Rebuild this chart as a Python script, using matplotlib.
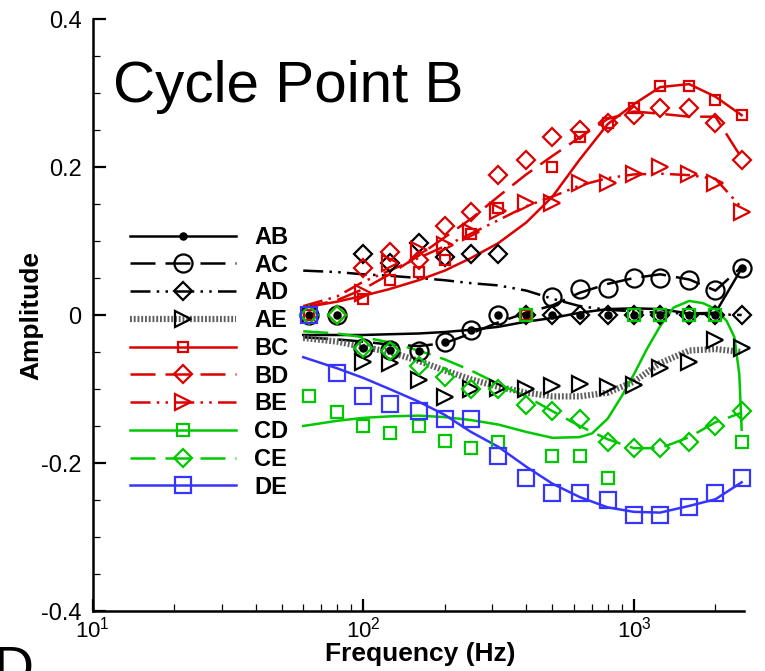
"""
Cycle Point B - amplitude spectra for each pair, markers plus fitted curves
"""

import numpy as np
import matplotlib
matplotlib.use("Agg")
import matplotlib.pyplot as plt
from matplotlib.lines import Line2D
from matplotlib.ticker import FixedLocator, MultipleLocator, LogLocator, NullFormatter

plt.rcParams["font.family"] = ["Liberation Sans", "DejaVu Sans"]
plt.rcParams["mathtext.fontset"] = "custom"
plt.rcParams["mathtext.rm"] = "Liberation Sans"
plt.rcParams["mathtext.it"] = "Liberation Sans:italic"
plt.rcParams["mathtext.bf"] = "Liberation Sans:bold"

nan = np.nan

# 1/3-octave band centres of the measured points
FREQ = [63, 80, 100, 125, 160, 200, 250, 315, 400, 500, 630, 800, 1000, 1250, 1600, 2000, 2500]

# measured amplitudes (markers)
AB_PTS = [0, 0, -0.044, -0.047, -0.048, -0.036, -0.02, 0, 0, 0, 0, 0, 0, 0, 0, 0, 0.063]
AC_PTS = [0, 0, -0.044, -0.047, -0.048, -0.036, -0.02, 0, nan, 0.024, 0.035, 0.036, 0.05, 0.05, 0.047, 0.034, 0.063]
AD_PTS = [nan, nan, 0.083, 0.07, 0.097, 0.078, 0.083, 0.083, 0, 0, 0, 0, 0, 0, 0, 0, 0]
AE_PTS = [nan, nan, -0.063, -0.065, -0.088, -0.111, -0.1, -0.099, -0.1, -0.096, -0.093, -0.097, -0.094, -0.072, -0.063, -0.034, -0.045]
BC_PTS = [0, nan, 0.022, 0.047, 0.058, 0.075, 0.11, 0.145, 0, 0.2, 0.24, 0.26, 0.28, 0.31, 0.31, 0.29, 0.27]
BD_PTS = [nan, 0, 0.063, 0.085, 0.074, 0.12, 0.139, 0.189, 0.209, 0.24, 0.25, 0.26, 0.27, 0.28, 0.28, 0.26, 0.21]
BE_PTS = [nan, nan, 0.03, 0.07, 0.088, 0.094, 0.112, 0.141, 0.151, 0.151, 0.179, 0.179, 0.19, 0.2, 0.19, 0.178, 0.139]
CD_PTS = [-0.11, -0.131, -0.15, -0.16, -0.15, -0.17, -0.18, -0.171, 0, -0.19, -0.19, -0.22, 0, 0, 0, 0, -0.171]
CE_PTS = [0, 0, -0.045, -0.049, -0.069, -0.084, -0.1, -0.1, -0.122, -0.13, -0.14, -0.171, -0.18, -0.18, -0.171, -0.15, -0.13]
DE_PTS = [0, -0.078, -0.11, -0.12, -0.13, -0.14, -0.14, -0.19, -0.22, -0.24, -0.24, -0.25, -0.27, -0.27, -0.26, -0.24, -0.22]

# fitted curves (lines)
LINE_FREQ = [60, 80, 100, 125, 160, 200, 250, 315, 400, 500, 630, 800, 1000, 1250, 1600, 2000, 2500]
AB_FIT = [-0.027, -0.027, -0.027, -0.026, -0.025, -0.023, -0.02, -0.016, -0.009, -0.004, 0.003, 0.008, 0.009, 0.008, 0.002, 0.003, 0.063]
AC_FIT = [-0.03, -0.033, -0.036, -0.04, -0.042, -0.038, -0.025, -0.01, 0.003, 0.013, 0.03, 0.042, 0.05, 0.055, 0.048, 0.033, 0.065]
AD_FIT = [0.06, 0.058, 0.055, 0.053, 0.05, 0.047, 0.043, 0.04, 0.033, 0.022, 0.012, 0.007, 0.005, 0.003, 0.002, 0.001, 0.0]
AE_FIT = [-0.031, -0.036, -0.043, -0.05, -0.062, -0.075, -0.087, -0.097, -0.105, -0.11, -0.11, -0.105, -0.09, -0.065, -0.048, -0.046, -0.05]
BC_FIT = [0.01, 0.018, 0.026, 0.035, 0.047, 0.06, 0.077, 0.097, 0.125, 0.16, 0.21, 0.258, 0.285, 0.308, 0.312, 0.295, 0.27]
BD_FIT = [0.01, 0.02, 0.035, 0.055, 0.08, 0.105, 0.13, 0.16, 0.19, 0.215, 0.24, 0.265, 0.275, 0.272, 0.268, 0.268, 0.212]
BE_FIT = [0.012, 0.025, 0.045, 0.06, 0.077, 0.093, 0.11, 0.128, 0.147, 0.16, 0.175, 0.185, 0.19, 0.191, 0.189, 0.184, 0.145]
CE_FIT = [-0.022, -0.025, -0.03, -0.037, -0.048, -0.06, -0.075, -0.093, -0.11, -0.13, -0.15, -0.168, -0.18, -0.18, -0.165, -0.145, -0.132]
DE_FIT = [-0.057, -0.072, -0.085, -0.1, -0.117, -0.135, -0.158, -0.178, -0.205, -0.228, -0.246, -0.26, -0.266, -0.267, -0.258, -0.249, -0.226]

# CD curve has a sharp swing near the top end, read on a finer grid
CD_LINE_FREQ = [60, 80, 100, 125, 160, 200, 250, 315, 400, 500, 630, 700, 800, 900, 1000, 1120, 1250,
                1400, 1600, 1800, 2000, 2200, 2350, 2450, 2500]
CD_FIT = [-0.15, -0.143, -0.139, -0.137, -0.136, -0.138, -0.142, -0.148, -0.158, -0.166, -0.165, -0.16,
          -0.14, -0.11, -0.08, -0.045, -0.015, 0.01, 0.019, 0.016, 0.008, -0.008, -0.03, -0.08, -0.155]

Y_TICKS = [-0.4, -0.2, 0, 0.2, 0.4]
Y_TICK_LABELS = ["-0.4", "-0.2", "0", "0.2", "0.4"]

RED = "#dd0000"
GREEN = "#00c800"
BLUE = "#3535ff"
LONG_DASH = (10, 4)
DASH_DOT_DOT = (8, 2.5, 1, 2.5, 1, 2.5)

# label, markers, curve x, curve y, colour, dashes, marker, size, filled
SERIES = [
    ("AB", AB_PTS, LINE_FREQ, AB_FIT, "black", None, "o", 4.5, True),
    ("AC", AC_PTS, LINE_FREQ, AC_FIT, "black", LONG_DASH, "o", 13, False),
    ("AD", AD_PTS, LINE_FREQ, AD_FIT, "black", DASH_DOT_DOT, "D", 9.5, False),
    ("AE", AE_PTS, LINE_FREQ, AE_FIT, "black", "hatch", ">", 11.5, False),
    ("BC", BC_PTS, LINE_FREQ, BC_FIT, RED, None, "s", 6.5, False),
    ("BD", BD_PTS, LINE_FREQ, BD_FIT, RED, LONG_DASH, "D", 9.5, False),
    ("BE", BE_PTS, LINE_FREQ, BE_FIT, RED, DASH_DOT_DOT, ">", 11.5, False),
    ("CD", CD_PTS, CD_LINE_FREQ, CD_FIT, GREEN, None, "s", 9, False),
    ("CE", CE_PTS, LINE_FREQ, CE_FIT, GREEN, LONG_DASH, "D", 9.5, False),
    ("DE", DE_PTS, LINE_FREQ, DE_FIT, BLUE, None, "s", 12, False),
]

LW = 1.8
MEW = 1.6


def line_style(color, dashes):
    """Keyword arguments for the curve of one series"""
    if dashes == "hatch":
        return dict(color="#5f5f5f", lw=4.5, dashes=(0.3, 0.3), solid_capstyle="butt",
                    dash_capstyle="butt")
    kw = dict(color=color, lw=LW)
    if dashes is not None:
        kw["dashes"] = dashes
    return kw


fig = plt.figure(figsize=(7.65, 6.71), dpi=100)
ax = fig.add_axes([92.6 / 765, 1 - 611 / 671, (744 - 92.6) / 765, (611 - 19) / 671])

handles = []
for label, pts, lf, fit, color, dashes, marker, ms, filled in SERIES:
    lkw = line_style(color, dashes)
    ax.plot(lf, fit, clip_on=False, zorder=2, **lkw)
    mfc = color if filled else "none"
    ax.plot(FREQ, pts, ls="none", marker=marker, ms=ms, mfc=mfc, mec=color, mew=MEW,
            clip_on=False, zorder=3)
    handles.append(Line2D([], [], marker=marker, ms=ms, mfc=mfc, mec=color, mew=MEW,
                          label=label, **lkw))

ax.set_xscale("log")
ax.set_xlim(10, 2550)
ax.set_ylim(-0.4, 0.4)
ax.yaxis.set_major_locator(FixedLocator(Y_TICKS))
ax.set_yticklabels(Y_TICK_LABELS)
ax.yaxis.set_minor_locator(MultipleLocator(0.05))
ax.xaxis.set_major_locator(LogLocator(base=10, numticks=10))
ax.xaxis.set_minor_locator(LogLocator(base=10, subs=np.arange(2, 10), numticks=20))
ax.xaxis.set_minor_formatter(NullFormatter())

for side in ["top", "right"]:
    ax.spines[side].set_visible(False)
for side in ["left", "bottom"]:
    ax.spines[side].set_linewidth(1.8)

ax.tick_params(which="major", direction="in", length=9, width=1.6)
ax.tick_params(which="minor", direction="in", length=5, width=0.9)
ax.tick_params(axis="y", which="major", labelsize=17, pad=8)
ax.tick_params(axis="x", which="major", labelsize=16, pad=4)

ax.set_xlabel("Frequency (Hz)", fontsize=19, fontweight="bold")
ax.set_ylabel("Amplitude", fontsize=19, fontweight="bold")
ax.xaxis.set_label_coords(0.503, -0.052)
ax.yaxis.set_label_coords(-0.075, 0.5)

ax.legend(handles=handles, loc="upper left", bbox_to_anchor=(130 / 765, 1 - 226 / 671),
          bbox_transform=fig.transFigure, frameon=False, numpoints=1,
          handlelength=4.5, handletextpad=0.75, labelspacing=0.2, borderpad=0,
          borderaxespad=0, prop={"weight": "bold", "size": 17})

fig.text(113 / 765, 1 - 102 / 671, "Cycle Point B", fontsize=42, va="baseline")
fig.text(-6 / 765, 1 - 645 / 671, "D", fontsize=40, va="top")

fig.savefig("out.png", dpi=100)
